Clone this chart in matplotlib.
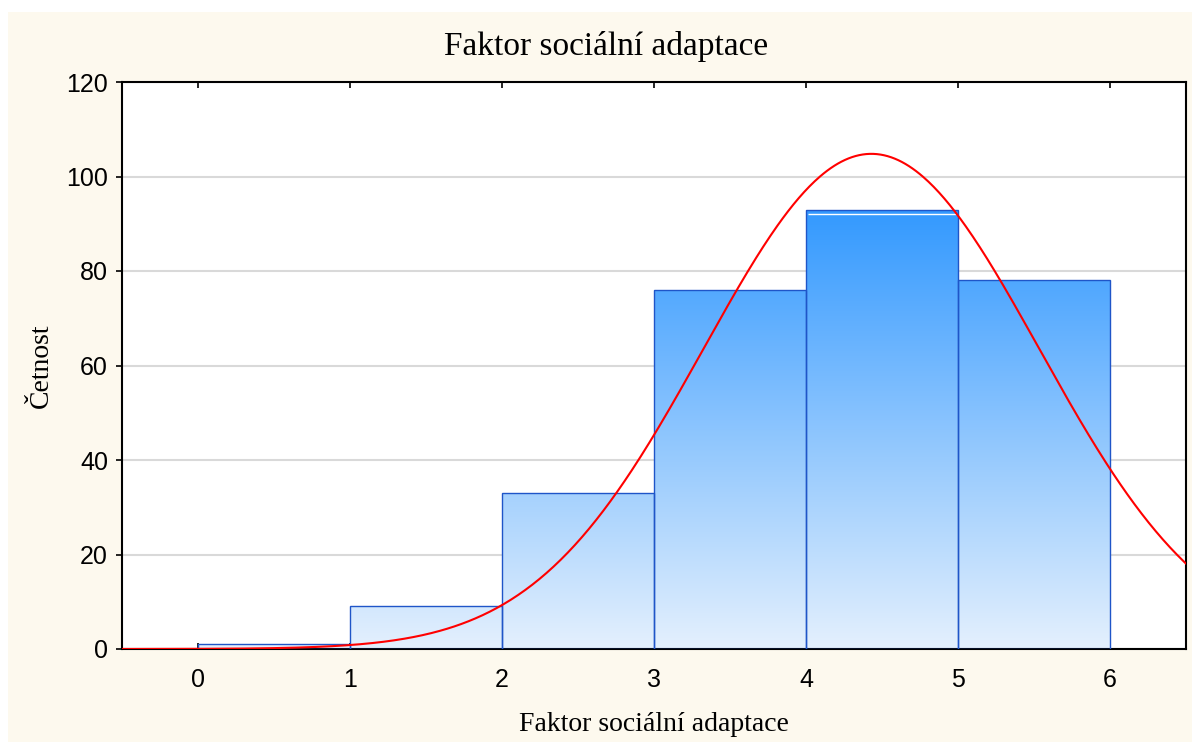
import matplotlib
matplotlib.use('Agg')
import matplotlib.pyplot as plt
import numpy as np
from matplotlib.colors import LinearSegmentedColormap
from matplotlib.patches import Rectangle

# histogram of the scores (bins of width 1)
bin_left = [0, 1, 2, 3, 4, 5]
counts = [1, 9, 33, 76, 93, 78]
inner_line = 92  # faint white line seen inside the tallest bar
# fitted normal curve
fit_mean = 4.43
fit_sd = 1.104
n_total = sum(counts)

x_ticks = [0, 1, 2, 3, 4, 5, 6]
y_ticks = [0, 20, 40, 60, 80, 100, 120]
title = 'Faktor sociální adaptace'
xlabel = 'Faktor sociální adaptace'
ylabel = 'Četnost'

fig = plt.figure(figsize=(11.92, 7.42), dpi=100)
fig.patch.set_facecolor('white')
fig.add_artist(Rectangle((8 / 1192, 0), 1, 730 / 742, transform=fig.transFigure,
                         facecolor='#fdf9ee', edgecolor='none', zorder=-10))
ax = fig.add_axes([122 / 1192, 93 / 742, 1064 / 1192, 567 / 742])
ax.set_facecolor('white')

cmap = LinearSegmentedColormap.from_list('bars', ['#e4f0fd', '#3399ff'])
grad = np.linspace(0, 1, 256).reshape(-1, 1)
for left, c in zip(bin_left, counts):
    rect = Rectangle((left, 0), 1, c, facecolor='none', edgecolor='#1f55c8', lw=1.0, zorder=3)
    ax.add_patch(rect)
    img = ax.imshow(grad, cmap=cmap, vmin=0, vmax=1, origin='lower', aspect='auto',
                    extent=(left, left + 1, 0, 93), zorder=2, interpolation='bilinear')
    img.set_clip_path(rect)

ax.hlines(inner_line, 4.01, 4.99, colors='white', lw=1.0, zorder=3)

xs = np.linspace(-0.5, 6.5, 600)
ys = n_total / (fit_sd * np.sqrt(2 * np.pi)) * np.exp(-0.5 * ((xs - fit_mean) / fit_sd) ** 2)
ax.plot(xs, ys, color='#ff0000', lw=1.5, zorder=4)
ax.set_xlim(-0.5, 6.5)
ax.set_ylim(0, 120)

ax.set_yticks(y_ticks)
ax.set_xticks(x_ticks)
ax.yaxis.grid(True, color='#d9d9d9', lw=1.5, zorder=0)
ax.set_axisbelow(True)
for s in ax.spines.values():
    s.set_linewidth(1.5)
    s.set_color('black')

tick_font = {'family': 'Liberation Sans', 'size': 18}
ax.set_xticklabels([str(t) for t in x_ticks], fontdict=tick_font)
ax.set_yticklabels([str(t) for t in y_ticks], fontdict=tick_font)
ax.tick_params(axis='x', direction='in', top=True, length=4, width=1.2, pad=14)
ax.tick_params(axis='y', direction='out', length=4, width=1.2, pad=6)
sec = ax.secondary_yaxis('right')
sec.set_yticks(y_ticks)
sec.set_yticklabels([])
sec.tick_params(direction='in', length=4, width=1.2)
sec.spines['right'].set_visible(False)

fig.text(606 / 1192, 1 - 47 / 742, title, family='Liberation Serif', size=24,
         ha='center', va='center')
ax.set_xlabel(xlabel, family='Liberation Serif', size=20, labelpad=14)
ax.set_ylabel(ylabel, family='Liberation Serif', size=20, labelpad=9)

fig.savefig('out.png', dpi=100)
